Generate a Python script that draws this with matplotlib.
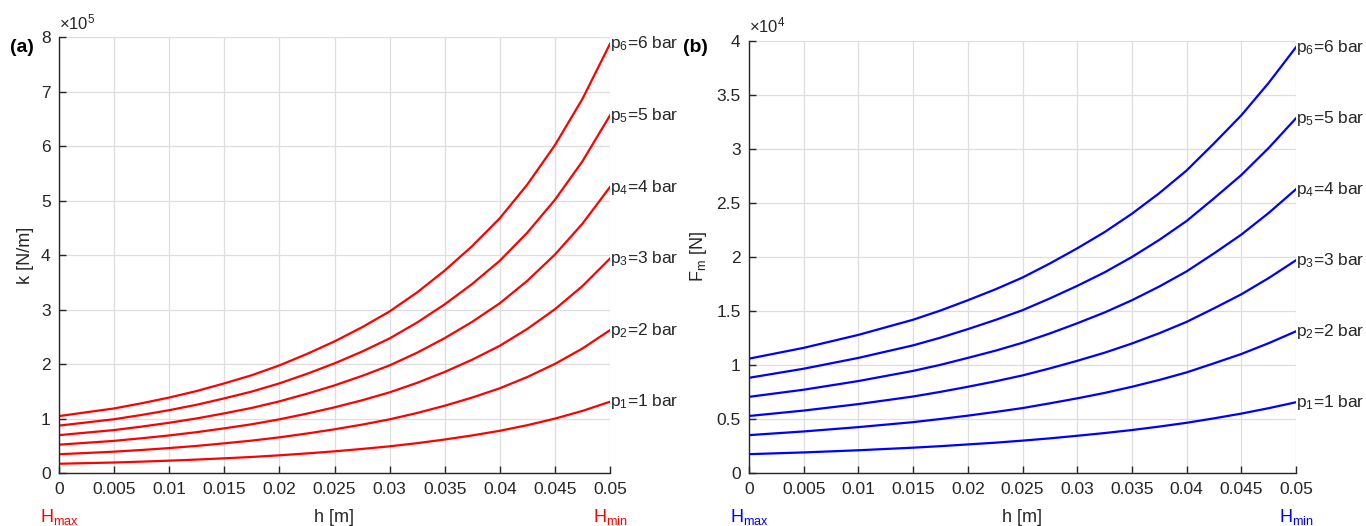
import numpy as np
import matplotlib
matplotlib.use("Agg")
import matplotlib.pyplot as plt
from matplotlib.ticker import FixedLocator, FixedFormatter
import matplotlib.transforms as mtransforms

plt.rcParams['font.family'] = ['Liberation Sans', 'DejaVu Sans']
plt.rcParams['mathtext.fontset'] = 'custom'
plt.rcParams['mathtext.rm'] = 'Liberation Sans'
plt.rcParams['mathtext.it'] = 'Liberation Sans'

# ---- data ----
h = [0, 0.0025, 0.005, 0.0075, 0.01, 0.0125, 0.015, 0.0175, 0.02, 0.0225, 0.025,
     0.0275, 0.03, 0.0325, 0.035, 0.0375, 0.04, 0.0425, 0.045, 0.0475, 0.05]

# stiffness k [N/m], in units of 1e5
k_p1 = [0.175, 0.187, 0.198, 0.214, 0.232, 0.252, 0.275, 0.300, 0.330, 0.365, 0.403,
        0.447, 0.495, 0.553, 0.620, 0.695, 0.780, 0.883, 1.003, 1.145, 1.313]
k_p2 = [0.350, 0.373, 0.397, 0.428, 0.463, 0.503, 0.550, 0.600, 0.660, 0.730, 0.807,
        0.893, 0.990, 1.107, 1.240, 1.390, 1.560, 1.767, 2.007, 2.290, 2.627]
k_p3 = [0.525, 0.560, 0.595, 0.643, 0.695, 0.755, 0.825, 0.900, 0.990, 1.095, 1.210,
        1.340, 1.485, 1.660, 1.860, 2.085, 2.340, 2.650, 3.010, 3.435, 3.940]
k_p4 = [0.700, 0.747, 0.793, 0.857, 0.927, 1.007, 1.100, 1.200, 1.320, 1.460, 1.613,
        1.787, 1.980, 2.213, 2.480, 2.780, 3.120, 3.533, 4.013, 4.580, 5.253]
k_p5 = [0.875, 0.933, 0.992, 1.071, 1.158, 1.258, 1.375, 1.500, 1.650, 1.825, 2.017,
        2.233, 2.475, 2.767, 3.100, 3.475, 3.900, 4.417, 5.017, 5.725, 6.567]
k_p6 = [1.05, 1.12, 1.19, 1.285, 1.39, 1.51, 1.65, 1.80, 1.98, 2.19, 2.42,
        2.68, 2.97, 3.32, 3.72, 4.17, 4.68, 5.30, 6.02, 6.87, 7.88]
k_scale = 1e5

# force Fm [N], in units of 1e4
f_p1 = [0.177, 0.185, 0.193, 0.203, 0.213, 0.225, 0.237, 0.251, 0.267, 0.283, 0.302,
        0.323, 0.347, 0.372, 0.400, 0.432, 0.467, 0.508, 0.552, 0.602, 0.657]
f_p2 = [0.353, 0.370, 0.387, 0.407, 0.427, 0.450, 0.473, 0.502, 0.533, 0.567, 0.603,
        0.647, 0.693, 0.743, 0.800, 0.863, 0.933, 1.017, 1.103, 1.203, 1.313]
f_p3 = [0.530, 0.555, 0.580, 0.610, 0.640, 0.675, 0.710, 0.753, 0.800, 0.850, 0.905,
        0.970, 1.040, 1.115, 1.200, 1.295, 1.400, 1.525, 1.655, 1.805, 1.970]
f_p4 = [0.707, 0.740, 0.773, 0.813, 0.853, 0.900, 0.947, 1.003, 1.067, 1.133, 1.207,
        1.293, 1.387, 1.487, 1.600, 1.727, 1.867, 2.033, 2.207, 2.407, 2.627]
f_p5 = [0.883, 0.925, 0.967, 1.017, 1.067, 1.125, 1.183, 1.254, 1.333, 1.417, 1.508,
        1.617, 1.733, 1.858, 2.000, 2.158, 2.333, 2.542, 2.758, 3.008, 3.283]
f_p6 = [1.06, 1.11, 1.16, 1.22, 1.28, 1.35, 1.42, 1.505, 1.60, 1.70, 1.81,
        1.94, 2.08, 2.23, 2.40, 2.59, 2.80, 3.05, 3.31, 3.61, 3.94]
f_scale = 1e4

curve_labels = [r'p$_1$=1 bar', r'p$_2$=2 bar', r'p$_3$=3 bar',
                r'p$_4$=4 bar', r'p$_5$=5 bar', r'p$_6$=6 bar']

x_ticks = [0, 0.005, 0.01, 0.015, 0.02, 0.025, 0.03, 0.035, 0.04, 0.045, 0.05]
x_tick_labels = ['0', '0.005', '0.01', '0.015', '0.02', '0.025', '0.03',
                 '0.035', '0.04', '0.045', '0.05']
k_ticks = [0, 1, 2, 3, 4, 5, 6, 7, 8]
k_tick_labels = ['0', '1', '2', '3', '4', '5', '6', '7', '8']
f_ticks = [0, 0.5, 1, 1.5, 2, 2.5, 3, 3.5, 4]
f_tick_labels = ['0', '0.5', '1', '1.5', '2', '2.5', '3', '3.5', '4']

# ---- figure ----
W, H = 1366, 526
fig = plt.figure(figsize=(W / 100, H / 100), dpi=100)

def ax_rect(x0, x1, ytop, ybot):
    return [x0 / W, 1 - ybot / H, (x1 - x0) / W, (ybot - ytop) / H]

axL = fig.add_axes(ax_rect(59, 610, 37.3, 473.3))
axR = fig.add_axes(ax_rect(749, 1296, 40.7, 473.3))

dark = '#262626'
grid_c = '#dedede'
FS = 12.5

def style(ax, yticks, ylabels, yscale, exponent, color, ylabel):
    ax.set_xlim(0, 0.05)
    ax.set_ylim(0, yticks[-1] * yscale)
    ax.xaxis.set_major_locator(FixedLocator(x_ticks))
    ax.xaxis.set_major_formatter(FixedFormatter(x_tick_labels))
    ax.yaxis.set_major_locator(FixedLocator([t * yscale for t in yticks]))
    ax.yaxis.set_major_formatter(FixedFormatter(ylabels))
    ax.grid(True, color=grid_c, linewidth=0.9)
    ax.set_axisbelow(True)
    for s in ['top', 'right']:
        ax.spines[s].set_visible(False)
    for s in ['left', 'bottom']:
        ax.spines[s].set_color(dark)
        ax.spines[s].set_linewidth(1.0)
    ax.tick_params(direction='in', length=5, width=1.0, color=dark,
                   labelcolor=dark, labelsize=FS, pad=6)
    ax.set_ylabel(ylabel, fontsize=13, color=dark, labelpad=5)
    ax.set_xlabel('h [m]', fontsize=13, color=dark, labelpad=9)
    ax.text(0.0, 1.012, r'$\times$10$^{%d}$' % exponent, transform=ax.transAxes,
            fontsize=12, color=dark, ha='left', va='bottom')
    trans = mtransforms.blended_transform_factory(ax.transData, ax.transAxes)
    ax.text(0, -0.1, r'H$_{max}$', color=color, fontsize=13, ha='center',
            va='center', transform=trans)
    ax.text(0.05, -0.1, r'H$_{min}$', color=color, fontsize=13, ha='center',
            va='center', transform=trans)

k_series = [k_p1, k_p2, k_p3, k_p4, k_p5, k_p6]
f_series = [f_p1, f_p2, f_p3, f_p4, f_p5, f_p6]

for s, lab in zip(k_series, curve_labels):
    y = np.array(s) * k_scale
    axL.plot(h, y, color='#ff0000', linewidth=1.6, solid_joinstyle='round')
    axL.text(h[-1], y[-1], lab, fontsize=FS, color=dark, ha='left', va='center',
             clip_on=False)
for s, lab in zip(f_series, curve_labels):
    y = np.array(s) * f_scale
    axR.plot(h, y, color='#0000ff', linewidth=1.6, solid_joinstyle='round')
    axR.text(h[-1], y[-1], lab, fontsize=FS, color=dark, ha='left', va='center',
             clip_on=False)

style(axL, k_ticks, k_tick_labels, k_scale, 5, '#ff0000', 'k [N/m]')
style(axR, f_ticks, f_tick_labels, f_scale, 4, '#0000ff', r'F$_m$ [N]')

fig.text(10 / W, 1 - 47 / H, '(a)', fontsize=14, fontweight='bold', va='center', ha='left')
fig.text(683 / W, 1 - 47 / H, '(b)', fontsize=14, fontweight='bold', va='center', ha='left')

fig.savefig('out.png', dpi=100, facecolor='white')
